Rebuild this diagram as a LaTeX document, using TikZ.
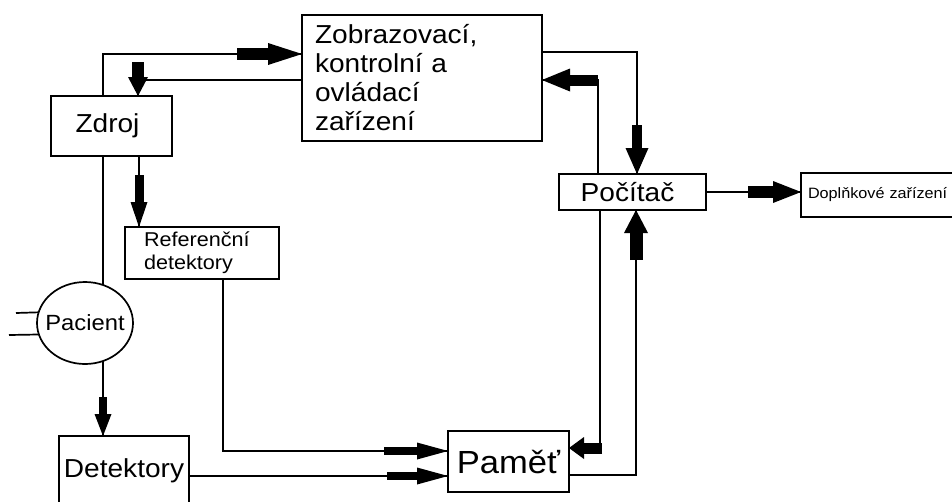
\documentclass[tikz,border=0pt]{standalone}
\usepackage{fontspec}
\setmainfont{Liberation Sans}[FakeStretch=1.08]
\usetikzlibrary{calc,shapes.geometric}
\newcommand{\fmain}{\fontsize{26}{29}\selectfont}
\newcommand{\fpam}{\fontsize{32}{34}\selectfont}
\newcommand{\fpac}{\fontsize{22}{24}\selectfont}
\newcommand{\fref}{\fontsize{20}{23}\selectfont}
\newcommand{\fdop}{\fontsize{15}{17}\selectfont}
% #1 start, #2 tip, #3 shaft width, #4 head length, #5 half head width
\newcommand{\blockarr}[5]{%
  \coordinate (bab) at ($(#2)!#4!(#1)$);
  \draw[line width=#3] (#1) -- ($(bab)!1pt!(#2)$);
  \fill ($(bab)!#5!90:(#2)$) -- (#2) -- ($(bab)!#5!-90:(#2)$) -- cycle;
}
\begin{document}
\begin{tikzpicture}[x=1pt,y=-1pt,
  box/.style={draw, line width=1.7pt, inner sep=0pt, outer sep=0pt, anchor=north west, font=\fmain},
  conn/.style={line width=1.7pt},
]
\useasboundingbox (0,0) rectangle (952,501);
\fill[white] (0,0) rectangle (952,501);

% nodes
\node[box, minimum width=240pt, minimum height=126pt, text width=214pt, align=left] (zob) at (302,15)
  {Zobrazovací,\\kontrolní a\\ovládací\\zařízení};
\node[box, minimum width=121pt, minimum height=60pt] (zdroj) at (51,96) {Zdroj\hspace*{8pt}};
\node[box, minimum width=154pt, minimum height=52pt, text width=116pt, inner xsep=19pt, align=left, font=\fref] (ref) at (125,227)
  {Referenční\\detektory};
\node[draw, ellipse, line width=1.7pt, minimum width=96pt, minimum height=82pt, inner sep=0pt, outer sep=0pt,
  label={[font=\fpac]center:Pacient}] (pac) at (85,323) {};
\node[box, minimum width=130pt, minimum height=84pt, text height=19pt, text depth=21pt] (det) at (59,436) {Detektory};
\node[box, minimum width=121pt, minimum height=61pt, font=\fpam] (pam) at (448,431) {Paměť};
\node[box, minimum width=147pt, minimum height=36pt] (poc) at (559,174) {Počítač\hspace*{10pt}};
\node[box, minimum width=160pt, minimum height=44pt, text width=146pt, inner xsep=7pt, align=left, font=\fdop] (dop) at (801,173)
  {Doplňkové zařízení};

\coordinate (pl1) at (16,313);
\coordinate (pl2) at (9,335);

% thin connectors
\draw[conn] (zdroj.north -| 103,0) |- (zob.west |- 0,54);
\draw[conn] (zob.west |- 0,80) -| (zdroj.north -| 138,0);
\draw[conn] (zdroj.south -| 139,0) -- (ref.north -| 139,0);
\draw[conn] (zdroj.south -| 103,0) -- (pac.64.6 -| 103,0);
\draw[conn] (pac.-64.6 -| 103,0) -- (det.north -| 103,0);
\draw[conn] (pl1) -- (pac.167.9);
\draw[conn] (pl2) -- (pac.194.65);
\draw[conn] (ref.south -| 223,0) |- (pam.west |- 0,451);
\draw[conn] (det.east |- 0,476) -- (pam.west |- 0,476);
\draw[conn] (poc.south -| 600,0) |- (pam.east |- 0,448);
\draw[conn] (pam.east |- 0,475) -| (poc.south -| 636,0);
\draw[conn] (zob.east |- 0,52) -| (poc.north -| 637,0);
\draw[conn] (poc.north -| 598,0) |- (zob.east |- 0,80);
\draw[conn] (poc.east |- 0,192) -- (dop.west |- 0,192);

% block arrows
\blockarr{237,54}{zob.west |- 0,54}{12pt}{34pt}{11pt}
\blockarr{138,62}{zdroj.north -| 138,0}{12pt}{19pt}{10pt}
\blockarr{139,175}{ref.north -| 139,0}{9pt}{25pt}{8.5pt}
\blockarr{103,397}{det.north -| 103,0}{8pt}{22pt}{8.5pt}
\blockarr{384,451}{pam.west |- 0,451}{8pt}{31pt}{8.5pt}
\blockarr{387,476}{pam.west |- 0,476}{8pt}{31pt}{8.5pt}
\blockarr{602,448}{pam.east |- 0,448}{11pt}{15pt}{11pt}
\blockarr{636,260}{poc.south -| 636,0}{13pt}{23pt}{12pt}
\blockarr{637,125}{poc.north -| 637,0}{10pt}{26pt}{11.5pt}
\blockarr{598,80}{zob.east |- 0,80}{11pt}{28pt}{11.5pt}
\blockarr{748,192}{dop.west |- 0,192}{12pt}{28pt}{11pt}
\end{tikzpicture}
\end{document}
